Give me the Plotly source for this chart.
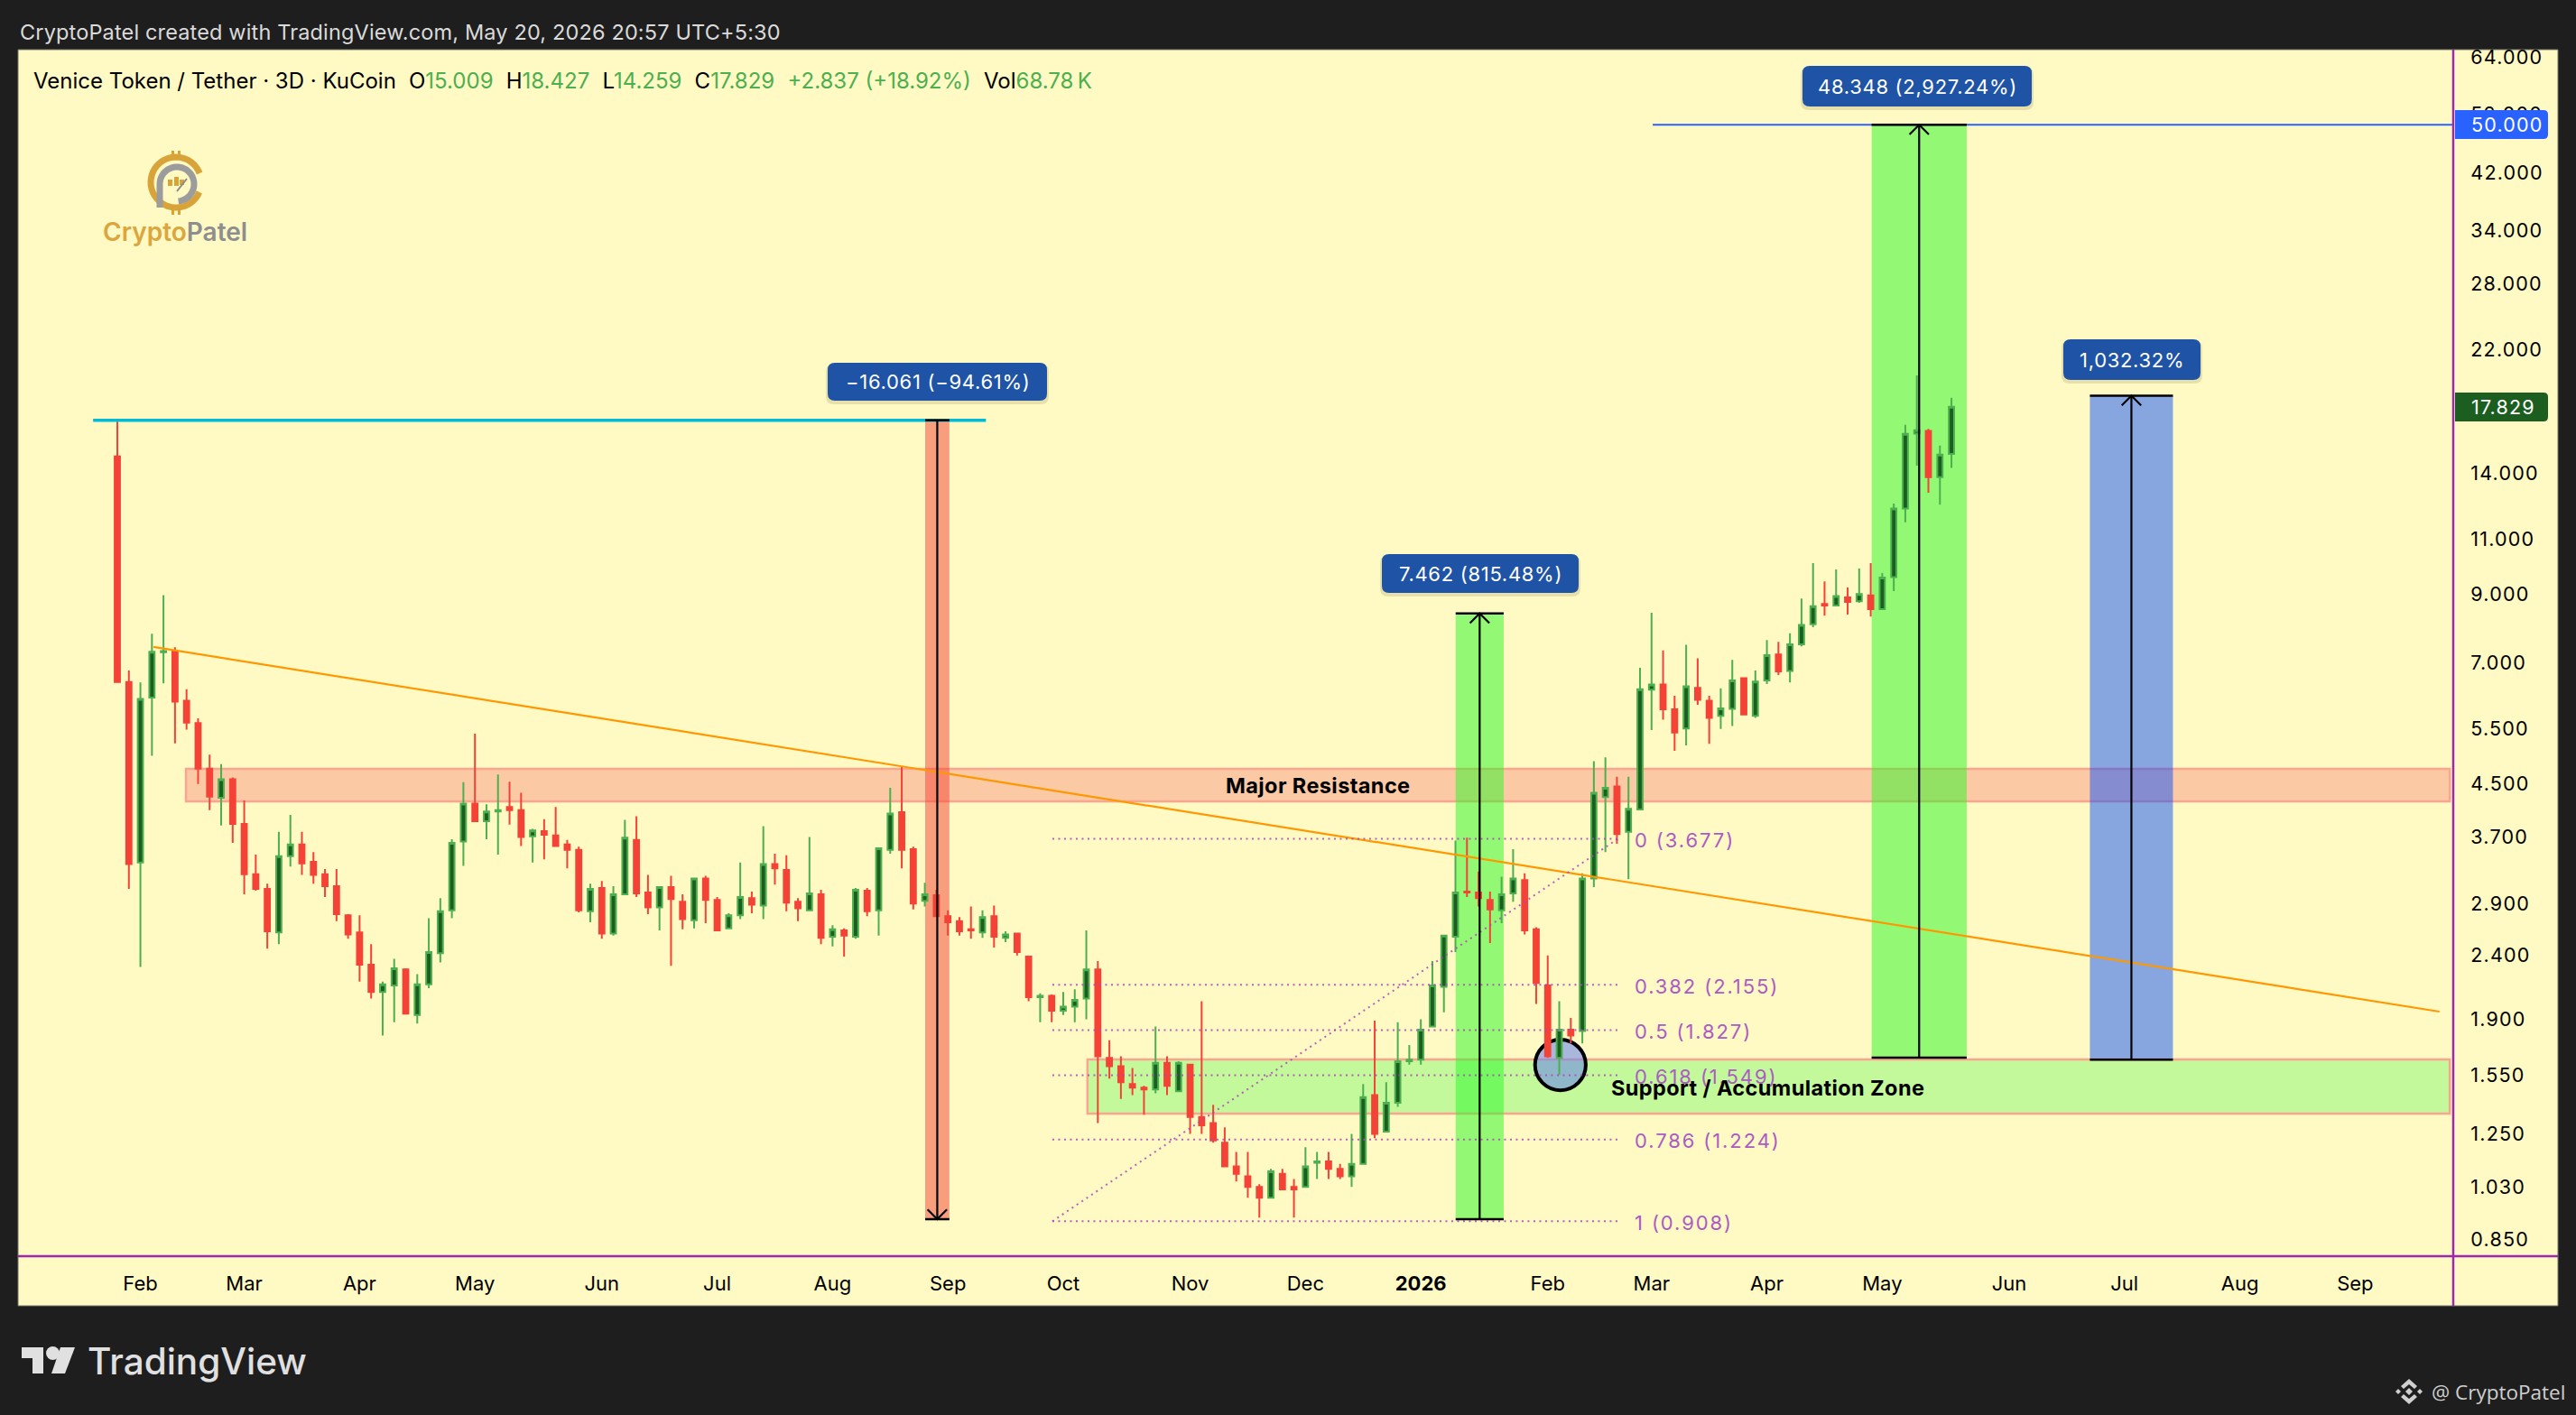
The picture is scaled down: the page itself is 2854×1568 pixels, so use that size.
import math

import pandas as pd
import plotly.graph_objects as go

W, H = 2854, 1568
PANE_L, PANE_R, PANE_T, PANE_B = 20, 2718, 55, 1392
FRAME_R, FRAME_B = 2834, 1447

# 3D candles
first_bar = pd.Timestamp("2025-01-28")
opens = [14.87, 6.52, 3.37, 6.16, 7.27, 7.29, 6.09, 5.61, 4.75, 4.27,
         4.57, 3.88, 3.23, 3.06, 2.61, 3.45, 3.60, 3.38, 3.23, 3.09,
         2.78, 2.61, 2.32, 2.10, 2.15, 2.28, 1.93, 2.16, 2.42, 2.83,
         3.64, 4.18, 3.92, 4.06, 4.13, 4.08, 3.71, 3.78, 3.72, 3.60,
         3.53, 2.82, 3.07, 2.60, 3.00, 3.66, 3.02, 2.86, 3.08, 2.92,
         2.73, 3.18, 2.94, 2.65, 2.78, 2.96, 2.88, 3.35, 3.28, 2.92,
         2.83, 3.00, 2.57, 2.63, 2.57, 3.04, 2.83, 3.53, 4.05, 3.54,
         2.93, 2.99, 2.77, 2.72, 2.64, 2.61, 2.77, 2.56, 2.60, 2.39,
         2.06, 2.07, 1.96, 1.99, 2.05, 2.28, 1.65, 1.60, 1.50, 1.48,
         1.47, 1.62, 1.46, 1.61, 1.33, 1.30, 1.21, 1.11, 1.07, 1.03,
         0.99, 1.08, 1.03, 1.03, 1.125, 1.13, 1.10, 1.07, 1.12, 1.44,
         1.26, 1.40, 1.63, 1.64, 1.85, 2.14, 2.57, 3.03, 3.02, 2.94,
         2.83, 3.01, 3.16, 2.64, 2.15, 1.65, 1.83, 1.82, 3.18, 4.28,
         4.45, 3.77, 4.09, 6.34, 6.46, 5.90, 5.50, 6.38, 6.09, 5.76,
         5.91, 6.61, 5.76, 6.56, 7.21, 6.79, 7.48, 8.05, 8.67, 8.62,
         8.88, 8.76, 8.95, 8.51, 9.57, 12.29, 16.17, 16.32, 13.79, 15.009]
highs = [16.97, 6.80, 6.51, 7.78, 8.96, 7.40, 6.35, 5.71, 5.00, 4.83,
         4.60, 4.23, 3.47, 3.12, 3.77, 4.01, 3.77, 3.50, 3.29, 3.29,
         2.79, 2.78, 2.50, 2.18, 2.37, 2.29, 2.24, 2.75, 2.96, 3.67,
         4.52, 5.40, 4.17, 4.65, 4.53, 4.35, 3.81, 3.95, 4.13, 3.66,
         3.57, 3.12, 3.15, 3.09, 3.94, 3.99, 3.22, 3.09, 3.21, 3.00,
         3.19, 3.21, 2.97, 2.80, 3.37, 3.03, 3.85, 3.48, 3.46, 2.96,
         3.70, 3.05, 2.68, 2.65, 3.07, 3.07, 3.56, 4.43, 4.79, 3.57,
         3.13, 3.05, 2.83, 2.76, 2.87, 2.83, 2.88, 2.62, 2.60, 2.39,
         2.09, 2.08, 2.10, 2.12, 2.63, 2.35, 1.76, 1.66, 1.59, 1.49,
         1.85, 1.66, 1.63, 1.61, 2.03, 1.39, 1.28, 1.17, 1.17, 1.04,
         1.10, 1.10, 1.06, 1.19, 1.17, 1.17, 1.12, 1.25, 1.50, 1.89,
         1.51, 1.88, 1.73, 1.90, 2.35, 2.58, 3.65, 3.69, 3.26, 3.03,
         3.20, 3.54, 3.24, 2.66, 2.40, 2.03, 1.91, 3.24, 4.88, 4.95,
         4.61, 4.61, 6.87, 8.40, 7.32, 6.20, 7.47, 7.11, 6.20, 6.37,
         7.07, 6.63, 6.80, 7.60, 7.55, 7.79, 8.85, 10.07, 9.42, 9.84,
         9.21, 9.87, 10.07, 9.71, 12.52, 16.69, 20.00, 16.45, 15.47, 18.427]
lows = [6.52, 3.06, 2.30, 4.98, 6.49, 5.21, 5.48, 4.49, 4.08, 3.86,
        3.62, 3.00, 3.04, 2.46, 2.50, 3.32, 3.22, 3.12, 2.97, 2.72,
        2.55, 2.18, 2.05, 1.79, 1.88, 1.94, 1.87, 2.13, 2.34, 2.75,
        3.33, 3.92, 3.67, 3.47, 3.87, 3.58, 3.37, 3.41, 3.58, 3.30,
        2.81, 2.71, 2.55, 2.58, 3.00, 2.97, 2.79, 2.63, 2.31, 2.64,
        2.65, 2.70, 2.62, 2.64, 2.74, 2.80, 2.74, 3.11, 2.82, 2.72,
        2.83, 2.50, 2.48, 2.39, 2.55, 2.77, 2.58, 3.48, 3.30, 2.84,
        2.87, 2.76, 2.58, 2.58, 2.55, 2.56, 2.47, 2.52, 2.40, 2.03,
        1.88, 1.88, 1.93, 1.88, 1.90, 1.30, 1.53, 1.42, 1.44, 1.34,
        1.45, 1.44, 1.46, 1.25, 1.25, 1.21, 1.11, 1.05, 0.99, 0.92,
        0.99, 1.02, 0.92, 1.03, 1.06, 1.06, 1.06, 1.03, 1.12, 1.23,
        1.26, 1.38, 1.61, 1.61, 1.85, 1.95, 2.43, 2.97, 2.87, 2.51,
        2.70, 2.92, 2.59, 2.01, 1.65, 1.55, 1.74, 1.74, 3.08, 3.50,
        3.61, 3.17, 4.09, 5.47, 5.68, 5.07, 5.17, 6.00, 5.20, 5.49,
        5.55, 5.79, 5.72, 6.47, 6.69, 6.51, 7.43, 7.97, 8.31, 8.62,
        8.34, 8.71, 8.28, 8.51, 9.09, 11.69, 14.38, 13.02, 12.47, 14.259]
closes = [6.52, 3.35, 6.13, 7.28, 7.30, 6.07, 5.62, 4.75, 4.29, 4.57,
          3.88, 3.23, 3.06, 2.62, 3.45, 3.60, 3.36, 3.22, 3.09, 2.79,
          2.59, 2.32, 2.10, 2.16, 2.29, 1.94, 2.16, 2.43, 2.82, 3.62,
          4.18, 3.92, 4.06, 4.08, 4.08, 3.70, 3.79, 3.73, 3.58, 3.53,
          2.83, 3.06, 2.60, 3.00, 3.69, 3.01, 2.86, 3.08, 2.95, 2.74,
          3.18, 2.94, 2.63, 2.78, 2.97, 2.89, 3.35, 3.30, 2.91, 2.85,
          3.01, 2.56, 2.64, 2.58, 3.05, 2.82, 3.55, 4.03, 3.53, 2.90,
          3.00, 2.77, 2.71, 2.62, 2.63, 2.76, 2.57, 2.59, 2.43, 2.06,
          2.07, 1.96, 1.99, 2.04, 2.28, 1.66, 1.60, 1.51, 1.48, 1.47,
          1.62, 1.49, 1.62, 1.33, 1.29, 1.22, 1.11, 1.08, 1.03, 0.99,
          1.09, 1.02, 1.02, 1.11, 1.13, 1.10, 1.07, 1.12, 1.43, 1.25,
          1.40, 1.63, 1.64, 1.83, 2.15, 2.58, 3.02, 3.02, 2.96, 2.84,
          3.00, 3.18, 2.63, 2.17, 1.66, 1.83, 1.79, 3.18, 4.35, 4.43,
          3.74, 4.10, 6.35, 6.46, 5.90, 5.42, 6.42, 6.11, 5.72, 5.92,
          6.56, 5.79, 6.53, 7.19, 6.78, 7.48, 8.03, 8.60, 8.62, 8.93,
          8.74, 8.99, 8.51, 9.55, 12.29, 16.15, 16.37, 13.79, 14.97, 17.829]

y_ticks = [64, 52, 42, 34, 28, 22, 14, 11, 9, 7, 5.5, 4.5, 3.7, 2.9, 2.4, 1.9, 1.55, 1.25, 1.03, 0.85]
month_dates = ["2025-02-03", "2025-03-02", "2025-04-01", "2025-05-01", "2025-06-03", "2025-07-03", "2025-08-02",
               "2025-09-01", "2025-10-01", "2025-11-03", "2025-12-03", "2026-01-02", "2026-02-04", "2026-03-03",
               "2026-04-02", "2026-05-02", "2026-06-04", "2026-07-04", "2026-08-03", "2026-09-02"]
month_labels = ["Feb", "Mar", "Apr", "May", "Jun", "Jul", "Aug", "Sep", "Oct", "Nov", "Dec", "<b>2026</b>",
                "Feb", "Mar", "Apr", "May", "Jun", "Jul", "Aug", "Sep"]

fib_levels = ["0", "0.382", "0.5", "0.618", "0.786", "1"]
fib_prices = [3.677, 2.155, 1.827, 1.549, 1.224, 0.908]

FONT = "Inter"
YELLOW = "#FFF9C4"
DARK = "#1E1E1E"
RED = "#F44336"
GREEN = "#4CAF50"
DARK_GREEN = "#1B5E20"
PURPLE = "#9C27B0"
FIB_COLOR = "rgba(171,71,188,0.85)"
ZONE_EDGE = "#FBA48F"
PILL = "#1E53A5"
GOLD = "#D8A43A"
GREY = "#9C9C9C"


def bar_x(i):
    return (first_bar + pd.Timedelta(days=3 * i)).strftime("%Y-%m-%d %H:%M")


# pixel -> paper helpers for the chrome around the chart
def px(x):
    return (x - PANE_L) / (PANE_R - PANE_L)


def py(y):
    return (PANE_B - y) / (PANE_B - PANE_T)


def spaced(s, em_px):
    return f'<span style="letter-spacing:{em_px}px">{s}</span>'


def paper_path(points, close=True):
    return "M " + " L ".join(f"{px(x)},{py(y)}" for x, y in points) + (" Z" if close else "")


def arc(cx, cy, r, a0, a1, n=40):
    return [(cx + r * math.cos(math.radians(a0 + (a1 - a0) * i / n)),
             cy - r * math.sin(math.radians(a0 + (a1 - a0) * i / n))) for i in range(n + 1)]


def rounded(x0, y0, x1, y1, r, left=True):
    rl = r if left else 0
    return (f"M {px(x0 + rl)},{py(y0)} L {px(x1 - r)},{py(y0)} Q {px(x1)},{py(y0)} {px(x1)},{py(y0 + r)} "
            f"L {px(x1)},{py(y1 - r)} Q {px(x1)},{py(y1)} {px(x1 - r)},{py(y1)} L {px(x0 + rl)},{py(y1)} "
            f"Q {px(x0)},{py(y1)} {px(x0)},{py(y1 - rl)} L {px(x0)},{py(y0 + rl)} Q {px(x0)},{py(y0)} {px(x0 + rl)},{py(y0)} Z")


def paper_shape(**kw):
    if "line" not in kw:
        kw["line_width"] = 0
    return dict(xref="paper", yref="paper", **kw)


def text(x, y, s, size=21, color="#000", anchor="left", weight=None, family=FONT):
    font = dict(family=family, size=size, color=color)
    if weight:
        font["weight"] = weight
    return dict(xref="paper", yref="paper", x=px(x), y=py(y), text=s, showarrow=False, xanchor=anchor,
                yanchor="middle", font=font, align="left")


fig = go.Figure()
shapes = []
notes = []

# yellow frame behind the axis labels
shapes.append(paper_shape(type="rect", x0=px(PANE_L), x1=px(FRAME_R), y0=py(FRAME_B), y1=py(PANE_T),
                          fillcolor=YELLOW, line=dict(color="#77776A", width=1), layer="below"))

# zones
shapes.append(dict(type="rect", xref="x", yref="y", x0=bar_x(5.95), x1=bar_x(202.2), y0=4.215, y1=4.747,
                   fillcolor="rgba(245,90,93,0.30)", line=dict(color=ZONE_EDGE, width=2.5), layer="below"))
shapes.append(dict(type="rect", xref="x", yref="y", x0=bar_x(84.1), x1=bar_x(202.2), y0=1.346, y1=1.641,
                   fillcolor="rgba(105,249,93,0.40)", line=dict(color=ZONE_EDGE, width=2.5), layer="below"))

# measure tools: centre bar, half width, tail price, head price, fill
measures = [
    (71.08, 1.05, 16.976, 0.915, "rgba(244,67,54,0.50)"),
    (118.1, 2.08, 0.915, 8.377, "rgba(39,249,38,0.50)"),
    (156.2, 4.12, 1.652, 50.0, "rgba(39,249,38,0.50)"),
    (174.6, 3.60, 1.640, 18.57, "rgba(0,72,255,0.47)"),
]
for c, hw, tail, head, fill in measures:
    shapes.append(dict(type="rect", xref="x", yref="y", x0=bar_x(c - hw), x1=bar_x(c + hw), y0=tail, y1=head,
                       fillcolor=fill, line_width=0, layer="below"))

# circle on the February low
shapes.append(dict(type="circle", xref="x", yref="y", x0=bar_x(122.9), x1=bar_x(127.3), y0=1.466, y1=1.764,
                   fillcolor="rgba(100,130,240,0.55)", line=dict(color="#000", width=4), layer="below"))

fig.add_trace(go.Candlestick(
    x=pd.date_range(first_bar, periods=len(opens), freq="3D"),
    open=opens, high=highs, low=lows, close=closes,
    increasing=dict(line=dict(color=GREEN, width=2), fillcolor=DARK_GREEN),
    decreasing=dict(line=dict(color=RED, width=2), fillcolor=RED),
    hoverinfo="skip", showlegend=False,
))


def add_line(xs, ys, color, width, dash=None):
    fig.add_trace(go.Scatter(x=xs, y=ys, mode="lines", showlegend=False, hoverinfo="skip",
                             line=dict(color=color, width=width, dash=dash)))


# trendline, previous high, 50 target
add_line([bar_x(3.13), bar_x(201.3)], [7.41, 1.954], "#FF9800", 2.2)
add_line([bar_x(-2.1), bar_x(75.3)], [16.97, 16.97], "#00BCD4", 3.5)
add_line([bar_x(133.1), bar_x(202.5)], [50, 50], "#2962FF", 2)

# fibonacci retracement
for level, price in zip(fib_levels, fib_prices):
    add_line([bar_x(81.06), bar_x(130.1)], [price, price], FIB_COLOR, 2, "2px,4.5px")
    notes.append(dict(xref="x", yref="y", x=bar_x(131.35), y=math.log10(price), yshift=-1.5,
                      text=spaced(f"{level} ({price:.3f})", 1.9),
                      showarrow=False, xanchor="left", yanchor="middle",
                      font=dict(family=FONT, size=22, color="#AB5CC4")))
add_line([bar_x(81.06), bar_x(130.1)], [fib_prices[-1], fib_prices[0]], FIB_COLOR, 2, "2px,4.5px")

# measure arrows on top of the candles
for c, hw, tail, head, fill in measures:
    add_line([bar_x(c), bar_x(c)], [tail, head], "#000", 2.2)
    add_line([bar_x(c - hw), bar_x(c + hw)], [tail, tail], "#000", 2.5)
    add_line([bar_x(c - hw), bar_x(c + hw)], [head, head], "#000", 2.5)
    k = 1.036 if head > tail else 1 / 1.036
    add_line([bar_x(c - 0.84), bar_x(c), bar_x(c + 0.84)], [head / k, head, head / k], "#000", 2.2)

# value pills
pills = [
    (917, 402, 1160, 444, "\u221216.061 (\u221294.61%)"),
    (1531, 614, 1749, 657, "7.462 (815.48%)"),
    (1997, 73, 2251, 118, "48.348 (2,927.24%)"),
    (2286, 376, 2438, 421, "1,032.32%"),
]
for x0, y0, x1, y1, label in pills:
    shapes.append(paper_shape(type="path", path=rounded(x0 - 2, y0 + 1, x1 + 2, y1 + 4, 9),
                              fillcolor="rgba(90,80,20,0.14)", layer="above"))
    shapes.append(paper_shape(type="path", path=rounded(x0, y0, x1, y1, 8), fillcolor=PILL, layer="above"))
    notes.append(text((x0 + x1) / 2, (y0 + y1) / 2, spaced(label, 0.7), size=22, color="#fff", anchor="center"))

# zone labels
notes.append(text(1460, 870, spaced("Major Resistance", 0.4), size=23.5, anchor="center", weight=700))
notes.append(text(1958, 1205, spaced("Support / Accumulation Zone", 0.4), size=23.5, anchor="center", weight=700))

# price axis boxes
shapes.append(paper_shape(type="path", path=rounded(2720, 122, 2823, 154, 5, left=False), fillcolor="#2962FF", layer="above"))
shapes.append(paper_shape(type="path", path=rounded(2720, 435, 2823, 467, 5, left=False), fillcolor=DARK_GREEN, layer="above"))
notes.append(text(2736, 138, spaced("50.000", 1.2), color="#fff", size=21.5))
notes.append(text(2736, 451, spaced("17.829", 1.2), color="#fff", size=21.5))

# pane separators
shapes.append(paper_shape(type="line", x0=1, x1=1, y0=py(FRAME_B), y1=1, line=dict(color=PURPLE, width=2.5), layer="above"))
shapes.append(paper_shape(type="line", x0=0, x1=px(FRAME_R), y0=0, y1=0, line=dict(color=PURPLE, width=2.5), layer="above"))

# header and legend
notes.append(text(20, 35, spaced("CryptoPatel created with TradingView.com, May 20, 2026 20:57 UTC+5:30", 0.15),
                  size=23.5, color="#DADADA"))
g = '<span style="fill:#4CAF50">'
gap = "\u2002\u200a"
legend_line = (f"Venice Token / Tether \u00b7 3D \u00b7 KuCoin{gap}O{g}15.009</span>{gap}H{g}18.427</span>{gap}"
               f"L{g}14.259</span>{gap}C{g}17.829</span>{gap}{g}+2.837 (+18.92%)</span>{gap}Vol{g}68.78\u2009K</span>")
notes.append(text(35, 90, legend_line, size=24, color="#000"))

# CryptoPatel logo
shapes.append(paper_shape(type="path", path=paper_path(arc(195, 202, 28, 21, 337), close=False),
                          line=dict(color=GOLD, width=7), layer="below"))
shapes.append(paper_shape(type="path", path=paper_path([(177, 230)] + arc(196, 204, 19, 180, -85), close=False),
                          line=dict(color=GREY, width=7), layer="below"))
for x0, y0, x1, y1 in [(190, 167, 193, 173), (197, 167, 200, 173), (190, 232, 193, 238), (197, 232, 200, 238),
                       (186, 199, 191, 206), (193, 196, 198, 206), (199, 199, 204, 205)]:
    shapes.append(paper_shape(type="rect", x0=px(x0), x1=px(x1), y0=py(y1), y1=py(y0), fillcolor=GOLD, layer="below"))
shapes.append(paper_shape(type="path", path=paper_path([(196, 212), (207, 198)], close=False),
                          line=dict(color="#8A8A8A", width=2), layer="below"))
notes.append(text(194, 257, '<span style="fill:#DBA63E">Crypto</span><span style="fill:#8E8E8E">Patel</span>',
                  size=28, anchor="center", weight=600))

# TradingView logo and watermark
for pts in ([(24, 1493), (48, 1493), (48, 1522), (36, 1522), (36, 1505), (24, 1505)],
            [(67, 1493), (83, 1493), (72, 1522), (57, 1522)]):
    shapes.append(paper_shape(type="path", path=paper_path(pts), fillcolor="#E0E0E0"))
shapes.append(paper_shape(type="circle", x0=px(51), x1=px(66), y0=py(1507), y1=py(1492), fillcolor="#E0E0E0"))
notes.append(text(95, 1508, "TradingView", size=40.5, color="#E0E0E0", weight=500))
for pts in ([(2669, 1528), (2678, 1536), (2675, 1539), (2669, 1534), (2663, 1539), (2660, 1536)],
            [(2669, 1556), (2678, 1548), (2675, 1545), (2669, 1550), (2663, 1545), (2660, 1548)],
            [(2669, 1538), (2673, 1542), (2669, 1546), (2665, 1542)],
            [(2657, 1539), (2660, 1542), (2657, 1545), (2654, 1542)],
            [(2681, 1539), (2684, 1542), (2681, 1545), (2678, 1542)]):
    shapes.append(paper_shape(type="path", path=paper_path(pts), fillcolor="#CFCFCF"))
notes.append(text(2844, 1542, "@ CryptoPatel", size=22.5, color="#CFCFCF", anchor="right", family="Open Sans"))

fig.update_layout(
    width=W, height=H,
    margin=dict(l=PANE_L, r=W - PANE_R, t=PANE_T, b=H - PANE_B, pad=0, autoexpand=False),
    paper_bgcolor=DARK,
    plot_bgcolor=YELLOW,
    showlegend=False,
    boxgap=0.35,
    shapes=shapes,
    annotations=notes,
    xaxis=dict(type="date", range=[bar_x(-8.607), bar_x(202.5)], rangeslider_visible=False, showgrid=False,
               zeroline=False, showline=False, tickmode="array", tickvals=month_dates, ticktext=month_labels,
               ticks="outside", ticklen=11, tickcolor="rgba(0,0,0,0)",
               tickfont=dict(family=FONT, size=22, color="#000")),
    yaxis=dict(type="log", range=[-0.0973, 1.8182], side="right", showgrid=False, zeroline=False, showline=False,
               tickmode="array", tickvals=y_ticks, ticktext=[spaced(f"{v:.3f}", 1.2) for v in y_ticks],
               ticks="outside", ticklen=14, tickcolor="rgba(0,0,0,0)",
               tickfont=dict(family=FONT, size=21.5, color="#000")),
)

fig.write_html("out.html", config={"displayModeBar": False},
               post_script="document.body.style.margin='0';document.body.style.background='#1e1e1e';")
